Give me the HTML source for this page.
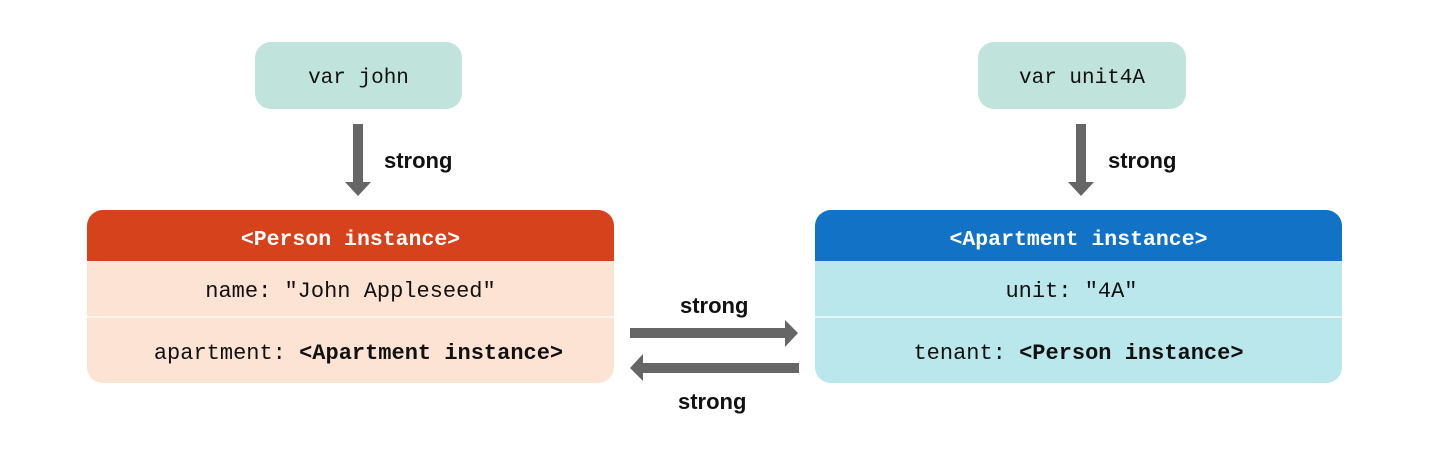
<!DOCTYPE html>
<html><head><meta charset="utf-8"><style>
body{margin:0;width:1434px;height:450px;background:#fff;position:relative;overflow:hidden}
.m{font-family:"Liberation Mono",monospace;color:#111}
.b{position:absolute;display:flex;align-items:center;justify-content:center;box-sizing:border-box}
.lbl{position:absolute;font-family:"Liberation Sans",sans-serif;font-weight:bold;font-size:22px;color:#111;line-height:22px}
</style></head><body>
<div class="b m" style="left:255px;top:42px;width:207px;height:67px;background:#c0e4dc;border-radius:16px;font-size:21px;padding-top:6px">var john</div>
<div class="b m" style="left:978px;top:42px;width:208px;height:67px;background:#c0e4dc;border-radius:16px;font-size:21px;padding-top:6px">var unit4A</div>

<div style="position:absolute;left:87px;top:210px;width:527px;height:173px;border-radius:16px;overflow:hidden;background:#fde3d4">
 <div class="b m" style="left:0;top:0;width:527px;height:51px;background:#d6421b;color:#fff;font-weight:bold;font-size:21.5px;padding-top:9px">&lt;Person instance&gt;</div>
 <div class="b m" style="left:0;top:51px;width:527px;height:55px;font-size:22px;padding-top:6px">name: "John Appleseed"</div>
 <div style="position:absolute;left:0;top:106px;width:527px;height:2px;background:#fff3ec"></div>
 <div class="b m" style="left:0;top:108px;width:527px;height:65px;font-size:22px;padding-top:6px;padding-left:16px">apartment:&nbsp;<b>&lt;Apartment instance&gt;</b></div>
</div>

<div style="position:absolute;left:815px;top:210px;width:527px;height:173px;border-radius:16px;overflow:hidden;background:#b9e7eb">
 <div class="b m" style="left:0;top:0;width:527px;height:51px;background:#1272c6;color:#fff;font-weight:bold;font-size:21.5px;padding-top:9px">&lt;Apartment instance&gt;</div>
 <div class="b m" style="left:0;top:51px;width:527px;height:55px;font-size:22px;padding-top:6px;padding-right:14px">unit: "4A"</div>
 <div style="position:absolute;left:0;top:106px;width:527px;height:2px;background:#e4f6f7"></div>
 <div class="b m" style="left:0;top:108px;width:527px;height:65px;font-size:22px;padding-top:6px">tenant:&nbsp;<b>&lt;Person instance&gt;</b></div>
</div>

<svg width="1434" height="450" style="position:absolute;left:0;top:0">
 <g fill="#666">
  <rect x="353" y="124" width="10" height="59"/><polygon points="345,182 371,182 358,196"/>
  <rect x="1076" y="124" width="10" height="59"/><polygon points="1068,182 1094,182 1081,196"/>
  <rect x="630" y="328" width="156" height="10"/><polygon points="785,320 798,333 785,347"/>
  <rect x="643" y="363" width="156" height="10"/><polygon points="643,354 630,368 643,381"/>
 </g>
</svg>
<div class="lbl" style="left:384px;top:150px">strong</div>
<div class="lbl" style="left:1108px;top:150px">strong</div>
<div class="lbl" style="left:680px;top:295px">strong</div>
<div class="lbl" style="left:678px;top:391px">strong</div>
</body></html>
